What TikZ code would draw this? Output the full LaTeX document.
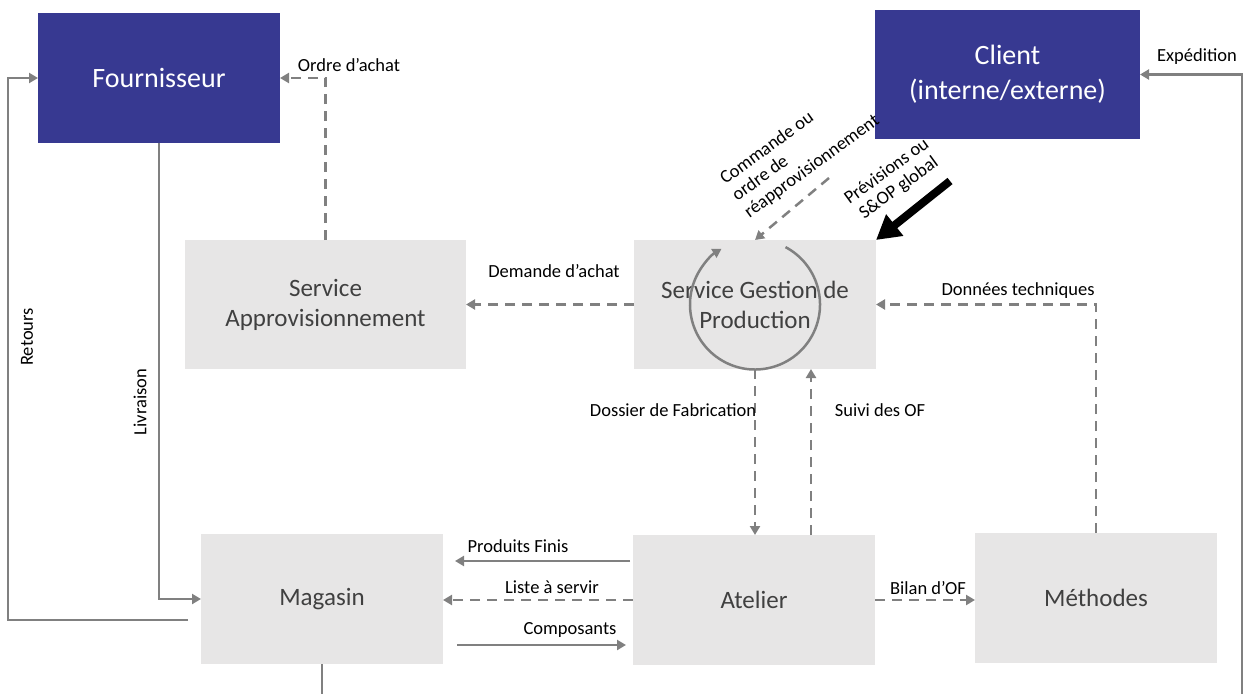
\documentclass[tikz,border=0pt]{standalone}
\usepackage{fontspec}
\setmainfont{Carlito}
\usetikzlibrary{arrows.meta,calc}

\definecolor{boxblue}{RGB}{55,57,145}
\definecolor{boxgray}{RGB}{231,230,230}
\definecolor{linegray}{RGB}{128,128,128}
\definecolor{boxtext}{RGB}{64,64,64}

\begin{document}
\begin{tikzpicture}[x=1pt,y=-1pt,
  actor/.style={rectangle, fill=boxblue, text=white, inner sep=0pt, outer sep=0pt,
    minimum width=242pt, minimum height=130pt, align=center,
    font=\fontsize{28}{35}\selectfont},
  service/.style={rectangle, fill=boxgray, text=boxtext, inner sep=0pt, outer sep=0pt,
    minimum width=242pt, minimum height=130pt, align=center,
    font=\fontsize{25}{30}\selectfont},
  link/.style={draw=linegray, line width=2.5pt},
  flow/.style={link, -{Triangle[length=9pt,width=10pt]}},
  info/.style={flow, dash pattern=on 10pt off 7pt},
  lbl/.style={inner sep=0pt, text=black, font=\fontsize{18.5}{22}\selectfont},
  tight/.style={font=\fontsize{18.5}{20.5}\selectfont},
]
\useasboundingbox (0,0) rectangle (1244,693);

% actors
\node[actor] (fourn) at (159,78) {Fournisseur};
\node[actor, minimum width=265pt, minimum height=129pt] (client) at (1007.5,74.5) {Client\\(interne/externe)};

% services
\node[service, minimum width=281pt, minimum height=129pt] (appro) at (325.5,304.5) {Service\\Approvisionnement};
\node[service, minimum height=129pt] (sgp) at (755,304.5) {Service Gestion de\\Production};
\node[service] (mag) at (322,599) {Magasin};
\node[service] (atel) at (754,600) {Atelier};
\node[service] (meth) at (1096,598) {Méthodes};

% planning loop inside the production planning service
\draw[flow] ([shift={(62:65pt)}]sgp.center) arc[start angle=62, end angle=-239, radius=65pt];

% free ends of connectors
\coordinate (retStart) at (188,620);
\coordinate (magOut) at (322,700);
\coordinate (expStart) at (1242,700);
\coordinate (pfEnd) at (455,561);
\coordinate (compStart) at (457,645);
\coordinate (cmdStart) at (829,178);
\coordinate (prevStart) at (950,181);
\coordinate (suiviA) at ([xshift=57pt]atel.north);

% physical flows
\draw[flow] (retStart) -| ([xshift=-30pt]fourn.west) -- (fourn.west);
\draw[flow] (fourn.south) |- (mag.west);
\draw[link] (mag.south) -- (magOut);
\draw[flow] (expStart) |- (client.east);
\draw[flow] ([xshift=-3pt]atel.west |- pfEnd) -- (pfEnd);
\draw[flow, shorten >=7pt] (compStart) -- (compStart -| atel.west);

% information flows
\draw[info] (appro.north) |- (fourn.east);
\draw[info] (sgp.west) -- (appro.east);
\draw[info] (meth.north) |- (sgp.east);
\draw[info] (sgp.south) -- (sgp.south |- atel.north);
\draw[info] (suiviA) -- (suiviA |- sgp.south);
\draw[info] (atel.west) -- (atel.west -| mag.east);
\draw[info] (atel.east) -- (atel.east -| meth.west);
\draw[info] (cmdStart) -- (sgp.north);
\draw[line width=8pt, -{Triangle[length=24pt,width=26pt]}] (prevStart) -- (sgp.north east);

% labels
\node[lbl] (lOrdre) at (349,65) {Ordre d’achat};
\node[lbl] (lExp) at (1197,57) {Expédition};
\node[lbl, rotate=90] (lRet) at (27,337) {Retours};
\node[lbl, rotate=90] (lLiv) at (140,402) {Livraison};
\node[lbl] (lDem) at (554,271) {Demande d’achat};
\node[lbl] (lDon) at (1018,291) {Données techniques};
\node[lbl] (lDos) at (673,410) {Dossier de Fabrication};
\node[lbl] (lSuivi) at (880,410) {Suivi des OF};
\node[lbl] (lPF) at (518,546) {Produits Finis};
\node[lbl] (lListe) at (552,587) {Liste à servir};
\node[lbl] (lComp) at (570,630) {Composants};
\node[lbl] (lBilan) at (928,588) {Bilan d’OF};
\node[lbl, tight, rotate=36, align=left] (lCmd) at (800,150) {Commande ou\\ordre de\\réapprovisionnement};
\node[lbl, tight, rotate=36, align=center] (lPrev) at (893,180) {Prévisions ou\\S\&OP global};
\end{tikzpicture}
\end{document}
